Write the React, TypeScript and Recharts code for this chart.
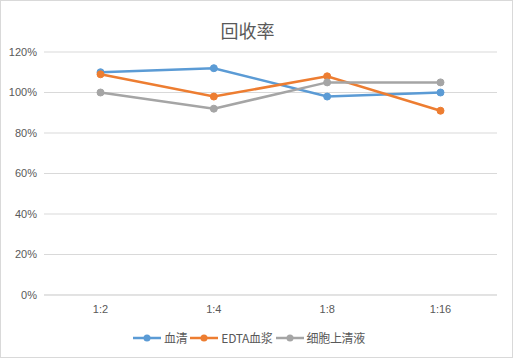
import React from "react";
import { LineChart, Line, XAxis, YAxis, CartesianGrid } from "recharts";

const ratios = ["1:2", "1:4", "1:8", "1:16"];
const serum = [110, 112, 98, 100];
const edtaPlasma = [109, 98, 108, 91];
const supernatant = [100, 92, 105, 105];
const yTicks = [0, 20, 40, 60, 80, 100, 120];

const series = [
  { key: "serum", name: "血清", color: "#5B9BD5" },
  { key: "edta", name: "EDTA血浆", color: "#ED7D31" },
  { key: "sup", name: "细胞上清液", color: "#A5A5A5" },
];

const data = ratios.map((r, i) => ({
  ratio: r,
  serum: serum[i],
  edta: edtaPlasma[i],
  sup: supernatant[i],
}));

const labelFont = "'Liberation Sans', Arial, sans-serif";
const cjkFont = "'Noto Sans CJK SC', sans-serif";

function LegendBox() {
  return (
    <div style={{ position: "absolute", left: -8, top: 328, width: 511, display: "flex", justifyContent: "center", alignItems: "center", gap: 2, fontSize: 12, color: "#595959", fontFamily: cjkFont }}>
      {series.map((s) => (
        <div key={s.key} style={{ display: "flex", alignItems: "center" }}>
          <svg width={30} height={10}>
            <line x1={1} y1={5} x2={29} y2={5} stroke={s.color} strokeWidth={2.5} />
            <circle cx={15} cy={5} r={3.5} fill={s.color} />
          </svg>
          <span style={{ marginLeft: 2, letterSpacing: -0.3 }}>{s.name}</span>
        </div>
      ))}
    </div>
  );
}

export default function App() {
  return (
    <div style={{ position: "absolute", left: 0, top: 0, width: 511, height: 356, border: "1px solid #D9D9D9", background: "#fff" }}>
      <style>{"body{margin:0}"}</style>
      <div style={{ position: "absolute", left: 0, top: 16, width: 493, textAlign: "center", fontSize: 18, color: "#595959", fontFamily: cjkFont }}>
        回收率
      </div>
      <LineChart width={511} height={356} data={data} margin={{ top: 51, right: 15, left: 0, bottom: 32 }}>
        <CartesianGrid vertical={false} stroke="#D9D9D9" />
        <XAxis
          dataKey="ratio"
          padding={{ left: 56.5, right: 56.5 }}
          stroke="#D9D9D9"
          tickLine={false}
          tick={{ fill: "#595959", fontSize: 11, fontFamily: labelFont }}
          tickMargin={4}
          height={30}
        />
        <YAxis
          domain={[0, 120]}
          ticks={yTicks}
          width={43}
          axisLine={false}
          tickLine={false}
          tickSize={0}
          tickMargin={7}
          tickFormatter={(v) => `${v}%`}
          tick={{ fill: "#595959", fontSize: 11, fontFamily: labelFont }}
        />
        {series.map((s) => (
          <Line
            key={s.key}
            dataKey={s.key}
            name={s.name}
            stroke={s.color}
            strokeWidth={2.5}
            dot={{ r: 3.5, fill: s.color, stroke: s.color, strokeWidth: 1 }}
            isAnimationActive={false}
          />
        ))}
      </LineChart>
      <LegendBox />
    </div>
  );
}
